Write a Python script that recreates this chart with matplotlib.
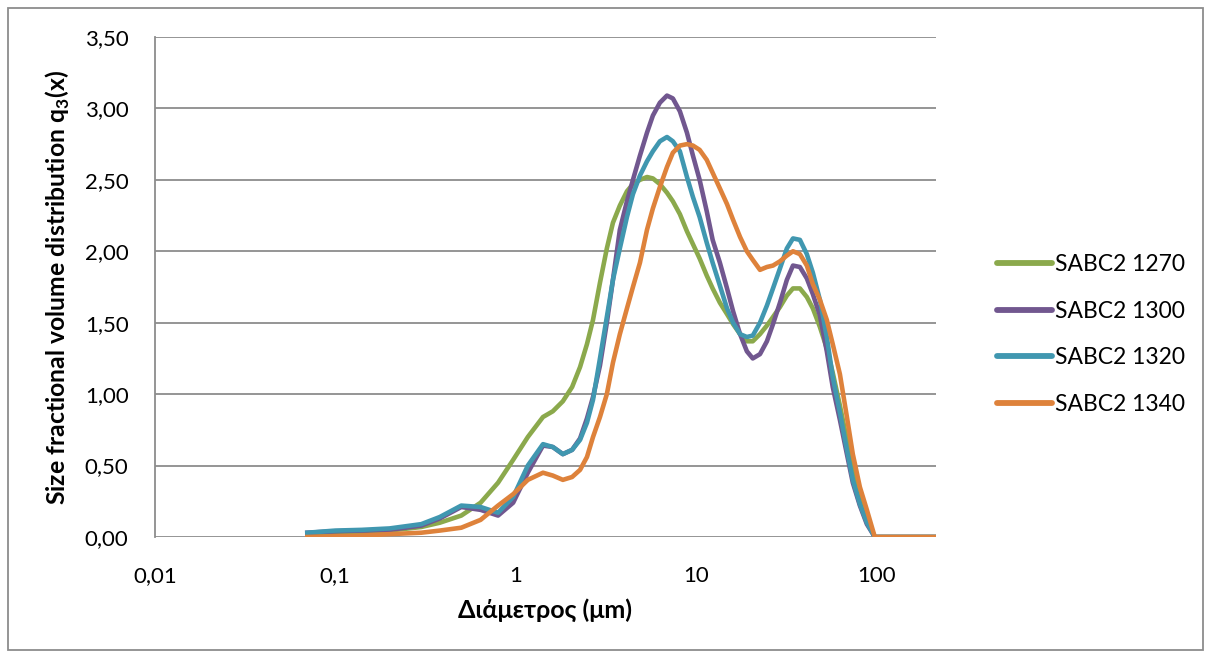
import matplotlib
matplotlib.use("Agg")
import matplotlib.pyplot as plt
from matplotlib.patches import Rectangle
from matplotlib.ticker import FixedLocator, NullLocator, FixedFormatter

plt.rcParams['font.family'] = ['Lato', 'Open Sans', 'DejaVu Sans']
plt.rcParams['mathtext.fontset'] = 'custom'
plt.rcParams['mathtext.rm'] = 'Lato'
plt.rcParams['mathtext.bf'] = 'Lato:bold'

diam = [0.07, 0.1, 0.14, 0.2, 0.3, 0.38, 0.5, 0.64, 0.8, 0.97, 1.17, 1.42, 1.61, 1.83,
        2.06, 2.28, 2.49, 2.69, 2.94, 3.21, 3.47, 3.79, 4.15, 4.48, 4.90, 5.36, 5.78,
        6.32, 6.92, 7.46, 8.16, 8.93, 9.64, 10.5, 11.5, 12.4, 13.6, 14.9, 16.1, 17.6,
        19.2, 20.7, 22.7, 24.8, 26.8, 29.3, 32.0, 34.6, 37.8, 41.3, 44.6, 48.8, 53.3,
        57.5, 63.0, 68.9, 74.3, 81.3, 88.9, 98.4, 135.0, 215.0]

sabc_1270 = [0.02, 0.03, 0.035, 0.045, 0.07, 0.10, 0.15, 0.24, 0.38, 0.54, 0.70, 0.84, 0.88, 0.95,
             1.05, 1.19, 1.35, 1.52, 1.78, 2.02, 2.20, 2.32, 2.42, 2.47, 2.50, 2.52, 2.51,
             2.47, 2.41, 2.35, 2.26, 2.14, 2.05, 1.95, 1.83, 1.74, 1.64, 1.56, 1.49, 1.42,
             1.37, 1.37, 1.42, 1.48, 1.54, 1.61, 1.69, 1.74, 1.74, 1.68, 1.60, 1.47, 1.32,
             1.15, 0.92, 0.68, 0.48, 0.28, 0.12, 0.0, 0.0, 0.0]

sabc_1300 = [0.03, 0.04, 0.045, 0.05, 0.08, 0.13, 0.21, 0.19, 0.15, 0.24, 0.45, 0.64, 0.63, 0.58,
             0.61, 0.69, 0.83, 0.98, 1.20, 1.50, 1.80, 2.15, 2.35, 2.50, 2.67, 2.83, 2.95,
             3.04, 3.09, 3.07, 2.98, 2.83, 2.67, 2.50, 2.28, 2.08, 1.92, 1.74, 1.58, 1.42,
             1.30, 1.25, 1.28, 1.37, 1.49, 1.64, 1.80, 1.90, 1.89, 1.81, 1.70, 1.55, 1.30,
             1.05, 0.82, 0.58, 0.38, 0.22, 0.09, 0.0, 0.0, 0.0]

sabc_1320 = [0.03, 0.045, 0.05, 0.06, 0.09, 0.14, 0.22, 0.21, 0.17, 0.28, 0.50, 0.65, 0.63, 0.58,
             0.61, 0.68, 0.80, 0.96, 1.25, 1.54, 1.80, 2.02, 2.24, 2.40, 2.53, 2.63, 2.70,
             2.77, 2.80, 2.77, 2.70, 2.52, 2.38, 2.24, 2.06, 1.92, 1.76, 1.60, 1.50, 1.42,
             1.40, 1.41, 1.50, 1.62, 1.74, 1.88, 2.02, 2.09, 2.08, 1.98, 1.85, 1.66, 1.40,
             1.12, 0.87, 0.61, 0.40, 0.23, 0.10, 0.0, 0.0, 0.0]

sabc_1340 = [0.0, 0.005, 0.01, 0.02, 0.03, 0.045, 0.065, 0.12, 0.22, 0.30, 0.40, 0.45, 0.43, 0.40,
             0.42, 0.47, 0.56, 0.70, 0.84, 1.00, 1.22, 1.42, 1.60, 1.75, 1.92, 2.15, 2.30,
             2.45, 2.59, 2.69, 2.74, 2.75, 2.74, 2.71, 2.64, 2.55, 2.44, 2.33, 2.22, 2.10,
             2.00, 1.94, 1.87, 1.89, 1.90, 1.93, 1.97, 2.00, 1.98, 1.90, 1.77, 1.66, 1.52,
             1.35, 1.14, 0.84, 0.58, 0.35, 0.19, 0.0, 0.0, 0.0]

series = [("SABC2 1270", sabc_1270, "#8BA94C"),
          ("SABC2 1300", sabc_1300, "#71578F"),
          ("SABC2 1320", sabc_1320, "#4097B0"),
          ("SABC2 1340", sabc_1340, "#DE823B")]

x_ticks = [0.01, 0.1, 1, 10, 100]
x_tick_labels = ["0,01", "0,1", "1", "10", "100"]
y_ticks = [0.0, 0.5, 1.0, 1.5, 2.0, 2.5, 3.0, 3.5]
y_tick_labels = ["0,00", "0,50", "1,00", "1,50", "2,00", "2,50", "3,00", "3,50"]

fig = plt.figure(figsize=(12.11, 6.58), dpi=100)
ax = fig.add_axes([155/1211, 1-537/658, (936-155)/1211, (537-37)/658])

for name, vals, col in series:
    ax.plot(diam, vals, color=col, lw=3.3, label=name, solid_joinstyle='round')

ax.set_xscale('log')
ax.set_xlim(0.01, 215)
ax.set_ylim(0, 3.5)
ax.xaxis.set_major_locator(FixedLocator(x_ticks))
ax.xaxis.set_major_formatter(FixedFormatter(x_tick_labels))
ax.xaxis.set_minor_locator(NullLocator())
ax.yaxis.set_major_locator(FixedLocator(y_ticks))
ax.yaxis.set_major_formatter(FixedFormatter(y_tick_labels))
ax.tick_params(axis='both', length=0, labelsize=16, colors='black')
ax.tick_params(axis='y', pad=19)
ax.tick_params(axis='x', pad=21)
ax.grid(axis='y', color='#8C8C8C', lw=1.3)
ax.set_axisbelow(True)
for s in ['top', 'right', 'bottom']:
    ax.spines[s].set_visible(False)
ax.spines['left'].set_color('#8C8C8C')
ax.spines['left'].set_linewidth(1.3)

ax.set_xlabel("Διάμετρος (μm)", fontsize=18, fontweight='bold')
ax.xaxis.set_label_coords(0.5, -0.122)
ax.set_ylabel(r"Size fractional volume distribution q$_{\mathbf{3}}$(x)", fontsize=17.8,
              fontweight='bold')
ax.yaxis.set_label_coords(-0.106, 0.5)

leg = ax.legend(loc='center left', bbox_to_anchor=(1.052, 0.405), frameon=False, fontsize=16.5,
                handlelength=2.4, handletextpad=0.12, labelspacing=1.12)
for h in leg.get_lines():
    h.set_linewidth(4.2)
    h.set_solid_capstyle('round')

fig.patches.append(Rectangle((8/1211, 8/658), 1 - 16/1211, 1 - 16/658, transform=fig.transFigure,
                             fill=False, edgecolor='#8C8C8C', lw=1.3))

fig.savefig("out.png", dpi=100)
